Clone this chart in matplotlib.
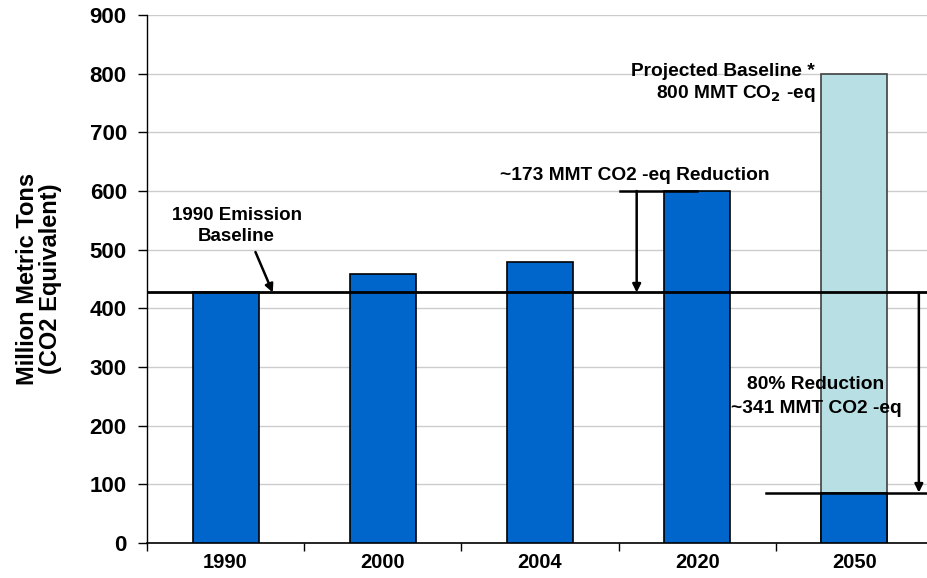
import matplotlib
matplotlib.use("Agg")
import matplotlib.pyplot as plt

plt.rcParams['font.family'] = ['Liberation Sans', 'DejaVu Sans']
plt.rcParams['font.weight'] = 'bold'

# Emissions by year (million metric tons CO2 equivalent)
years = ['1990', '2000', '2004', '2020', '2050']
emissions = [427, 458, 479, 600, 86]
projected_2050 = 800
baseline_1990 = 427
target_2050 = 86

bar_blue = '#0066CC'
light_blue = '#B8E0E4'

fig = plt.figure(figsize=(9.28, 5.78), dpi=100)
ax = fig.add_axes([147 / 928, 35 / 578, 786 / 928, 528 / 578])

x = list(range(len(years)))
width = 0.42

# projected 2050 baseline behind the reduced 2050 bar
ax.bar(x[-1], projected_2050, width=width, color=light_blue,
       edgecolor='#404040', linewidth=1.2, zorder=2)
ax.bar(x, emissions, width=width, color=bar_blue,
       edgecolor='black', linewidth=1.2, zorder=3)

ax.set_xlim(-0.5, 4.5)
ax.set_ylim(0, 900)
ax.set_yticks(range(0, 901, 100))
ax.set_xticks(x)
ax.set_xticklabels(years, fontsize=14.5, fontweight='bold')
ax.set_xticks([i + 0.5 for i in range(-1, len(years))], minor=True)
ax.tick_params(axis='x', which='major', length=0, pad=7)
ax.tick_params(axis='x', which='minor', length=6, width=1, direction='out')
ax.tick_params(axis='y', labelsize=16, length=6.5, width=1, direction='out', pad=8)
for lab in ax.get_yticklabels():
    lab.set_fontweight('bold')

ax.grid(axis='y', color='#cccccc', linewidth=1, zorder=0)
ax.set_axisbelow(True)
for side in ('top', 'right'):
    ax.spines[side].set_visible(False)
ax.spines['left'].set_linewidth(1)
ax.spines['bottom'].set_linewidth(1.2)

ax.set_ylabel('Million Metric Tons\n(CO2 Equivalent)', fontsize=17,
              fontweight='bold', labelpad=20, linespacing=0.98)

# 1990 baseline line across the chart
ax.axhline(baseline_1990, color='black', linewidth=2, zorder=4)

ax.text(0.07, 541, '1990 Emission\nBaseline', ha='center', va='center',
        fontsize=13.5, fontweight='bold', linespacing=1.3)
ax.annotate('', xy=(0.30, baseline_1990), xytext=(0.19, 496),
            arrowprops=dict(arrowstyle='-|>', color='black', lw=1.8,
                            mutation_scale=12, shrinkA=0, shrinkB=0))

# 2020 reduction arrow
ax.plot([2.51, 3.0], [emissions[3], emissions[3]], color='black', lw=1.8, zorder=4)
ax.annotate('', xy=(2.615, baseline_1990), xytext=(2.615, emissions[3]),
            arrowprops=dict(arrowstyle='-|>', color='black', lw=1.8,
                            mutation_scale=12, shrinkA=0, shrinkB=0), zorder=5)
ax.text(2.60, 626, '~173 MMT CO2 -eq Reduction', ha='center', va='center',
        fontsize=13.8, fontweight='bold')

# 2050 projection and reduction
ax.text(3.75, 803, 'Projected Baseline *', ha='right', va='center',
        fontsize=13.8, fontweight='bold')
ax.text(3.75, 766, r'800 MMT CO$_\mathbf{2}$ -eq', ha='right', va='center',
        fontsize=13.8, fontweight='bold')
ax.plot([3.44, 4.5], [target_2050, target_2050], color='black', lw=1.8, zorder=4)
ax.annotate('', xy=(4.41, target_2050), xytext=(4.41, baseline_1990),
            arrowprops=dict(arrowstyle='-|>', color='black', lw=1.8,
                            mutation_scale=12, shrinkA=0, shrinkB=0), zorder=5)
ax.text(3.75, 270, '80% Reduction', ha='center', va='center',
        fontsize=13.8, fontweight='bold', zorder=6)
ax.text(3.76, 229, '~341 MMT CO2 -eq', ha='center', va='center',
        fontsize=13.8, fontweight='bold', zorder=6)

fig.savefig('out.png', dpi=100)
